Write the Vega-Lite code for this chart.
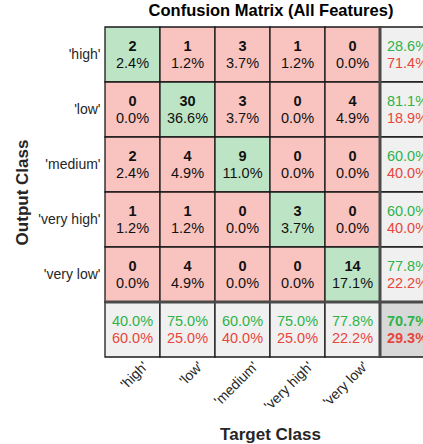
{
  "$schema": "https://vega.github.io/schema/vega-lite/v6.json",
  "autosize": {"type": "none"},
  "padding": {"left": 105, "top": 27, "right": 0, "bottom": 87},
  "width": 318,
  "height": 330,
  "background": "white",
  "config": {"font": "Liberation Sans", "view": {"stroke": null}},
  "title": {"text": "Confusion Matrix (All Features)", "fontSize": 16.5, "fontWeight": "bold", "color": "#000000", "anchor": "middle", "dx": 7, "offset": 6},
  "data": {"values": [
    {"r": 0, "c": 0, "l1": "2", "l2": "2.4%", "kind": "diag"},
    {"r": 0, "c": 1, "l1": "1", "l2": "1.2%", "kind": "off"},
    {"r": 0, "c": 2, "l1": "3", "l2": "3.7%", "kind": "off"},
    {"r": 0, "c": 3, "l1": "1", "l2": "1.2%", "kind": "off"},
    {"r": 0, "c": 4, "l1": "0", "l2": "0.0%", "kind": "off"},
    {"r": 0, "c": 5, "l1": "28.6%", "l2": "71.4%", "kind": "sum"},
    {"r": 1, "c": 0, "l1": "0", "l2": "0.0%", "kind": "off"},
    {"r": 1, "c": 1, "l1": "30", "l2": "36.6%", "kind": "diag"},
    {"r": 1, "c": 2, "l1": "3", "l2": "3.7%", "kind": "off"},
    {"r": 1, "c": 3, "l1": "0", "l2": "0.0%", "kind": "off"},
    {"r": 1, "c": 4, "l1": "4", "l2": "4.9%", "kind": "off"},
    {"r": 1, "c": 5, "l1": "81.1%", "l2": "18.9%", "kind": "sum"},
    {"r": 2, "c": 0, "l1": "2", "l2": "2.4%", "kind": "off"},
    {"r": 2, "c": 1, "l1": "4", "l2": "4.9%", "kind": "off"},
    {"r": 2, "c": 2, "l1": "9", "l2": "11.0%", "kind": "diag"},
    {"r": 2, "c": 3, "l1": "0", "l2": "0.0%", "kind": "off"},
    {"r": 2, "c": 4, "l1": "0", "l2": "0.0%", "kind": "off"},
    {"r": 2, "c": 5, "l1": "60.0%", "l2": "40.0%", "kind": "sum"},
    {"r": 3, "c": 0, "l1": "1", "l2": "1.2%", "kind": "off"},
    {"r": 3, "c": 1, "l1": "1", "l2": "1.2%", "kind": "off"},
    {"r": 3, "c": 2, "l1": "0", "l2": "0.0%", "kind": "off"},
    {"r": 3, "c": 3, "l1": "3", "l2": "3.7%", "kind": "diag"},
    {"r": 3, "c": 4, "l1": "0", "l2": "0.0%", "kind": "off"},
    {"r": 3, "c": 5, "l1": "60.0%", "l2": "40.0%", "kind": "sum"},
    {"r": 4, "c": 0, "l1": "0", "l2": "0.0%", "kind": "off"},
    {"r": 4, "c": 1, "l1": "4", "l2": "4.9%", "kind": "off"},
    {"r": 4, "c": 2, "l1": "0", "l2": "0.0%", "kind": "off"},
    {"r": 4, "c": 3, "l1": "0", "l2": "0.0%", "kind": "off"},
    {"r": 4, "c": 4, "l1": "14", "l2": "17.1%", "kind": "diag"},
    {"r": 4, "c": 5, "l1": "77.8%", "l2": "22.2%", "kind": "sum"},
    {"r": 5, "c": 0, "l1": "40.0%", "l2": "60.0%", "kind": "sum"},
    {"r": 5, "c": 1, "l1": "75.0%", "l2": "25.0%", "kind": "sum"},
    {"r": 5, "c": 2, "l1": "60.0%", "l2": "40.0%", "kind": "sum"},
    {"r": 5, "c": 3, "l1": "75.0%", "l2": "25.0%", "kind": "sum"},
    {"r": 5, "c": 4, "l1": "77.8%", "l2": "22.2%", "kind": "sum"},
    {"r": 5, "c": 5, "l1": "70.7%", "l2": "29.3%", "kind": "total"}
  ]},
  "transform": [
    {"calculate": "datum.c + 1", "as": "c1"},
    {"calculate": "datum.r + 1", "as": "r1"},
    {"calculate": "datum.c + 0.5", "as": "cx"},
    {"calculate": "datum.r + 0.5", "as": "ry"}
  ],
  "layer": [
    {
      "mark": {"type": "rect", "stroke": "#1a1a1a", "strokeWidth": 1.3},
      "encoding": {
        "x": {"field": "c", "type": "quantitative",
              "scale": {"domain": [0, 5.7818], "nice": false, "zero": false},
              "axis": {"values": [0.5, 1.5, 2.5, 3.5, 4.5],
                       "labelExpr": "[\"'high'\", \"'low'\", \"'medium'\", \"'very high'\", \"'very low'\"][floor(datum.value)]",
                       "labelAngle": -45, "labelAlign": "right", "labelBaseline": "top",
                       "labelFontSize": 14, "labelColor": "#262626", "labelOffset": 8, "labelPadding": 2,
                       "ticks": false, "domain": false, "grid": false,
                       "title": "Target Class", "titleFontSize": 17, "titleFontWeight": "bold", "titleColor": "#262626",
                       "titleX": 165, "titleY": 77, "titleAlign": "center", "titleBaseline": "middle"}},
        "x2": {"field": "c1"},
        "y": {"field": "r", "type": "quantitative",
              "scale": {"domain": [0, 6], "nice": false, "zero": false, "reverse": true},
              "axis": {"values": [0.5, 1.5, 2.5, 3.5, 4.5],
                       "labelExpr": "[\"'high'\", \"'low'\", \"'medium'\", \"'very high'\", \"'very low'\"][floor(datum.value)]",
                       "labelFontSize": 14, "labelColor": "#262626", "labelPadding": 5, "labelBaseline": "middle",
                       "ticks": false, "domain": false, "grid": false,
                       "title": "Output Class", "titleFontSize": 17, "titleFontWeight": "bold", "titleColor": "#262626",
                       "titleX": -82.5, "titleY": 165, "titleAngle": -90, "titleAlign": "center", "titleBaseline": "middle"}},
        "y2": {"field": "r1"},
        "fill": {"field": "kind", "type": "nominal", "legend": null,
                 "scale": {"domain": ["diag", "off", "sum", "total"], "range": ["#BDE5C5", "#F9C3BF", "#F0F0F0", "#D8D8D8"]}}
      }
    },
    {
      "data": {"values": [{"v": 5}]},
      "mark": {"type": "rule", "stroke": "#4a4a4a", "strokeWidth": 3},
      "encoding": {"x": {"field": "v", "type": "quantitative"}}
    },
    {
      "data": {"values": [{"v": 5}]},
      "mark": {"type": "rule", "stroke": "#4a4a4a", "strokeWidth": 3},
      "encoding": {"y": {"field": "v", "type": "quantitative"}}
    },
    {
      "transform": [{"filter": "datum.kind == 'diag' || datum.kind == 'off'"}],
      "mark": {"type": "text", "fontSize": 14.5, "fontWeight": "bold", "color": "#111111", "dy": -8, "baseline": "middle"},
      "encoding": {"x": {"field": "cx", "type": "quantitative"}, "y": {"field": "ry", "type": "quantitative"}, "text": {"field": "l1"}}
    },
    {
      "transform": [{"filter": "datum.kind == 'diag' || datum.kind == 'off'"}],
      "mark": {"type": "text", "fontSize": 14.5, "color": "#111111", "dy": 9, "baseline": "middle"},
      "encoding": {"x": {"field": "cx", "type": "quantitative"}, "y": {"field": "ry", "type": "quantitative"}, "text": {"field": "l2"}}
    },
    {
      "transform": [{"filter": "datum.kind == 'sum'"}],
      "mark": {"type": "text", "fontSize": 14.5, "color": "#2DB34A", "dy": -8, "baseline": "middle"},
      "encoding": {"x": {"field": "cx", "type": "quantitative"}, "y": {"field": "ry", "type": "quantitative"}, "text": {"field": "l1"}}
    },
    {
      "transform": [{"filter": "datum.kind == 'sum'"}],
      "mark": {"type": "text", "fontSize": 14.5, "color": "#E8463C", "dy": 9, "baseline": "middle"},
      "encoding": {"x": {"field": "cx", "type": "quantitative"}, "y": {"field": "ry", "type": "quantitative"}, "text": {"field": "l2"}}
    },
    {
      "transform": [{"filter": "datum.kind == 'total'"}],
      "mark": {"type": "text", "fontSize": 14.5, "fontWeight": "bold", "color": "#2DB34A", "dy": -8, "baseline": "middle"},
      "encoding": {"x": {"field": "cx", "type": "quantitative"}, "y": {"field": "ry", "type": "quantitative"}, "text": {"field": "l1"}}
    },
    {
      "transform": [{"filter": "datum.kind == 'total'"}],
      "mark": {"type": "text", "fontSize": 14.5, "fontWeight": "bold", "color": "#E8463C", "dy": 9, "baseline": "middle"},
      "encoding": {"x": {"field": "cx", "type": "quantitative"}, "y": {"field": "ry", "type": "quantitative"}, "text": {"field": "l2"}}
    }
  ]
}
